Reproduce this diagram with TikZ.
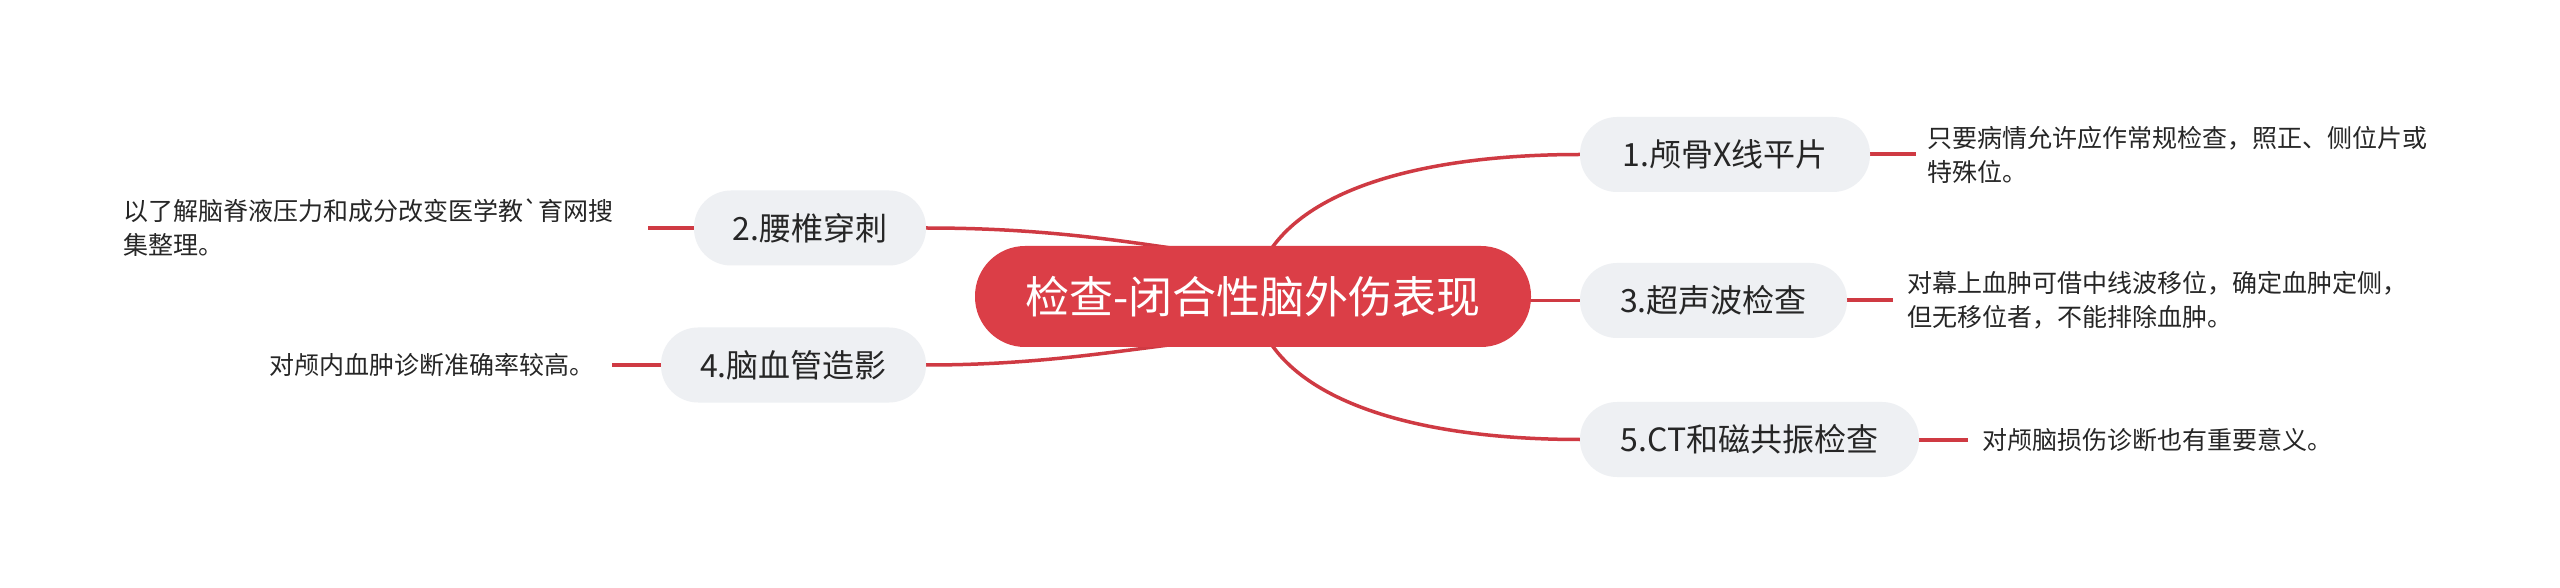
\documentclass[tikz,border=0pt]{standalone}
\usepackage{fontspec}
\newfontfamily\cjk{Noto Sans CJK SC}
\usetikzlibrary{calc}
\definecolor{rootred}{HTML}{DB3E47}
\definecolor{linered}{HTML}{CF3A43}
\definecolor{subfill}{HTML}{EEF0F3}
\definecolor{txt}{HTML}{262626}
\pgfdeclarelayer{background}
\pgfsetlayers{background,main}
\begin{document}
\begin{tikzpicture}[x=1pt,y=1pt,
  rootnode/.style={fill=rootred, text=white, rounded corners=50pt, minimum width=556pt, minimum height=101pt, inner sep=0pt, font=\cjk\fontsize{44}{50}\selectfont},
  subnode/.style={fill=subfill, text=txt, rounded corners=37pt, minimum height=75pt, inner sep=0pt, font=\cjk\fontsize{32}{38}\selectfont},
  note/.style={text=txt, align=left, inner ysep=0pt, font=\cjk\fontsize{25}{34}\selectfont},
  link/.style={draw=linered, line width=3.5pt},
  notelink/.style={draw=linered, line width=4pt}]
\useasboundingbox (0,0) rectangle (2560,587);

\node[rootnode] (root) at (1253,290.5) {检查-闭合性脑外伤表现};

\node[subnode, minimum width=290pt] (n1) at (1725,432.5) {1.颅骨X线平片};
\node[subnode, minimum width=267pt] (n3) at (1713.5,286.5) {3.超声波检查};
\node[subnode, minimum width=339pt] (n5) at (1749.5,147.5) {5.CT和磁共振检查};
\node[subnode, minimum width=232pt] (n2) at (810,359) {2.腰椎穿刺};
\node[subnode, minimum width=265pt] (n4) at (793.5,222) {4.脑血管造影};

\node[note, anchor=west, inner xsep=11pt] (t1) at (1916,432.5) {只要病情允许应作常规检查，照正、侧位片或\\特殊位。};
\node[note, anchor=west, inner xsep=14pt] (t3) at (1893,286.5) {对幕上血肿可借中线波移位，确定血肿定侧，\\但无移位者，不能排除血肿。};
\node[note, anchor=west, inner xsep=14pt] (t5) at (1968,147.5) {对颅脑损伤诊断也有重要意义。};
\node[note, anchor=east, inner xsep=0pt, text width=524pt] (t2) at (648,359) {以了解脑脊液压力和成分改变医学教`育网搜\\集整理。};
\node[note, anchor=east, inner xsep=0pt, text width=342pt] (t4) at (612,222) {对颅内血肿诊断准确率较高。};

\begin{pgfonlayer}{background}
\fill[white] (0,0) rectangle (2560,587);
\draw[link] (root.center) .. controls +(12,96.5) and +(-180,0) .. (n1.west);
\draw[link] (root.center) .. controls +(12,-96.5) and +(-180,0) .. (n5.west);
\draw[link] (root.center |- n3.west) -- (n3.west);
\draw[link] (n2.east) .. controls +(104,0) and +(-80,12) .. ($(root.north)+(-70,-4)$);
\draw[link] (n4.east) .. controls +(104,0) and +(-80,-10) .. ($(root.south)+(-70,4)$);
\draw[notelink] (n1.east) -- (t1.west);
\draw[notelink] (n3.east) -- (t3.west);
\draw[notelink] (n5.east) -- (t5.west);
\draw[notelink] (n2.west) -- (t2.east);
\draw[notelink] (n4.west) -- (t4.east);
\end{pgfonlayer}
\end{tikzpicture}
\end{document}
